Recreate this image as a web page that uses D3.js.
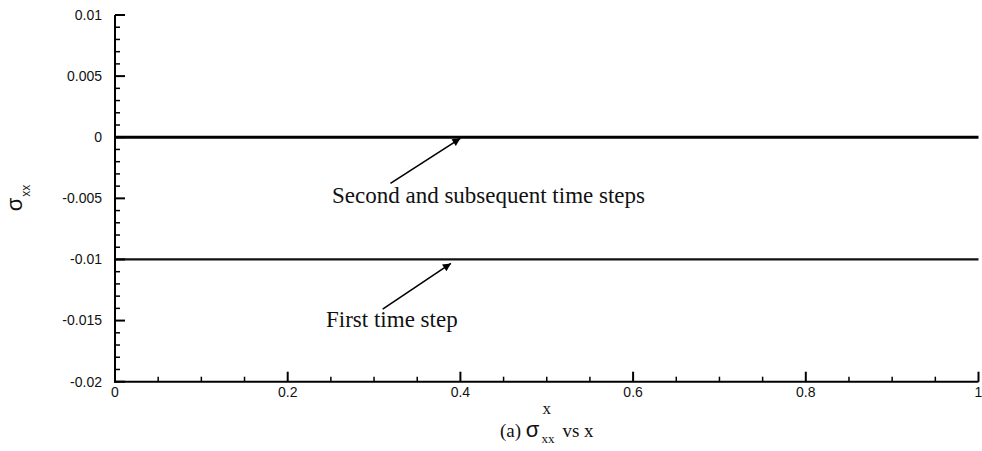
<!DOCTYPE html>
<html>
<head>
<meta charset="utf-8">
<script src="https://cdn.jsdelivr.net/npm/d3@7/dist/d3.min.js"></script>
<style>
  body { margin: 0; background: #fff; }
  svg { display: block; }
  .sans { font-family: "Liberation Sans", Arial, Helvetica, sans-serif; fill: #111; }
  .serif { font-family: "Liberation Serif", "Times New Roman", serif; fill: #111; }
</style>
</head>
<body>
<svg id="chart" width="982" height="451"></svg>
<script>
// Sampled positions along the bar and the stress at each one
const xPositions      = [0, 0.1, 0.2, 0.3, 0.4, 0.5, 0.6, 0.7, 0.8, 0.9, 1.0];
const sigmaFirstStep  = [-0.01, -0.01, -0.01, -0.01, -0.01, -0.01, -0.01, -0.01, -0.01, -0.01, -0.01];
const sigmaLaterSteps = [0, 0, 0, 0, 0, 0, 0, 0, 0, 0, 0];

// Axis ticks
const xTickValues = [0, 0.2, 0.4, 0.6, 0.8, 1];
const xTickLabels = ["0", "0.2", "0.4", "0.6", "0.8", "1"];
const yTickValues = [0.01, 0.005, 0, -0.005, -0.01, -0.015, -0.02];
const yTickLabels = ["0.01", "0.005", "0", "-0.005", "-0.01", "-0.015", "-0.02"];

const svg = d3.select("#chart");
const margin = { left: 115, top: 15, right: 3.5, bottom: 69.3 };
const W = 982, H = 451;

const x = d3.scaleLinear().domain([0, 1]).range([margin.left, W - margin.right]);
const y = d3.scaleLinear().domain([-0.02, 0.01]).range([H - margin.bottom, margin.top]);

// Series lines
const line = d3.line().x(d => x(d[0])).y(d => y(d[1]));
const series = [
  { values: sigmaFirstStep,  color: "#111", width: 2.2 },
  { values: sigmaLaterSteps, color: "#000", width: 2.8 }
];
series.forEach(s => {
  svg.append("path")
    .datum(xPositions.map((xv, i) => [xv, s.values[i]]))
    .attr("d", line)
    .attr("fill", "none")
    .attr("stroke", s.color)
    .attr("stroke-width", s.width);
});

// Inward ticks: major and minor
const g = svg.append("g").attr("stroke", "#000");
const yMinor = d3.range(-0.02, 0.01 + 1e-9, 0.001).filter(v => !yTickValues.some(t => Math.abs(t - v) < 1e-9));
const xMinor = d3.range(0, 1 + 1e-9, 0.05).filter(v => !xTickValues.some(t => Math.abs(t - v) < 1e-9));

yTickValues.forEach(v => g.append("line")
  .attr("x1", x(0)).attr("x2", x(0) + 10).attr("y1", y(v)).attr("y2", y(v)).attr("stroke-width", 2));
yMinor.forEach(v => g.append("line")
  .attr("x1", x(0)).attr("x2", x(0) + 5).attr("y1", y(v)).attr("y2", y(v)).attr("stroke-width", 1.5));
xTickValues.forEach(v => g.append("line")
  .attr("x1", x(v)).attr("x2", x(v)).attr("y1", y(-0.02)).attr("y2", y(-0.02) - 10).attr("stroke-width", 2));
xMinor.forEach(v => g.append("line")
  .attr("x1", x(v)).attr("x2", x(v)).attr("y1", y(-0.02)).attr("y2", y(-0.02) - 5).attr("stroke-width", 1.5));

// Axis lines (left and bottom only)
g.append("line").attr("x1", x(0)).attr("x2", x(0)).attr("y1", y(0.01)).attr("y2", y(-0.02) + 1).attr("stroke-width", 2);
g.append("line").attr("x1", x(0) - 1).attr("x2", x(1)).attr("y1", y(-0.02)).attr("y2", y(-0.02)).attr("stroke-width", 2);

// Tick labels
yTickValues.forEach((v, i) => svg.append("text")
  .attr("class", "sans").style("font-size", "14px")
  .attr("x", x(0) - 13).attr("y", y(v)).attr("dy", "0.35em")
  .attr("text-anchor", "end").text(yTickLabels[i]));
xTickValues.forEach((v, i) => svg.append("text")
  .attr("class", "sans").style("font-size", "14px")
  .attr("x", x(v)).attr("y", y(-0.02) + 15.5)
  .attr("text-anchor", "middle").text(xTickLabels[i]));

// Annotation arrows and labels
const defs = svg.append("defs");
defs.append("marker")
  .attr("id", "head").attr("viewBox", "0 0 10 10")
  .attr("refX", 10).attr("refY", 5)
  .attr("markerWidth", 12).attr("markerHeight", 8)
  .attr("markerUnits", "userSpaceOnUse")
  .attr("orient", "auto")
  .append("path").attr("d", "M0,0 L10,5 L0,10 Z").attr("fill", "#000");

const annotations = [
  { text: "Second and subsequent time steps", from: [0.319, -0.00377], to: [0.4, -0.00009], at: [0.2513, -0.0054] },
  { text: "First time step",                  from: [0.310, -0.01406], to: [0.389, -0.01032], at: [0.2444, -0.01553] }
];
annotations.forEach(a => {
  svg.append("line")
    .attr("x1", x(a.from[0])).attr("y1", y(a.from[1]))
    .attr("x2", x(a.to[0])).attr("y2", y(a.to[1]))
    .attr("stroke", "#000").attr("stroke-width", 1.6)
    .attr("marker-end", "url(#head)");
  svg.append("text").attr("class", "serif")
    .attr("x", x(a.at[0])).attr("y", y(a.at[1]))
    .style("font-size", "23px").text(a.text);
});

// Axis titles and caption
const midX = (x(0) + x(1)) / 2;

const yTitle = svg.append("text").attr("class", "sans")
  .attr("transform", "translate(22,198) rotate(-90)")
  .attr("text-anchor", "middle").style("font-size", "22px");
yTitle.append("tspan").text("σ");
yTitle.append("tspan").style("font-size", "12px").attr("dy", 8).attr("dx", 1).text("xx");

svg.append("text").attr("class", "serif")
  .attr("x", midX).attr("y", 414).attr("text-anchor", "middle")
  .style("font-size", "17px").text("x");

const caption = svg.append("text").attr("class", "serif")
  .attr("x", midX).attr("y", 437).attr("text-anchor", "middle").style("font-size", "19px");
caption.append("tspan").text("(a) ");
caption.append("tspan").attr("class", "sans").style("font-size", "22px").text("σ");
caption.append("tspan").style("font-size", "13px").attr("dy", 6).attr("dx", 2).text("xx");
caption.append("tspan").attr("dy", -6).attr("dx", 8).text("vs x");
</script>
</body>
</html>
